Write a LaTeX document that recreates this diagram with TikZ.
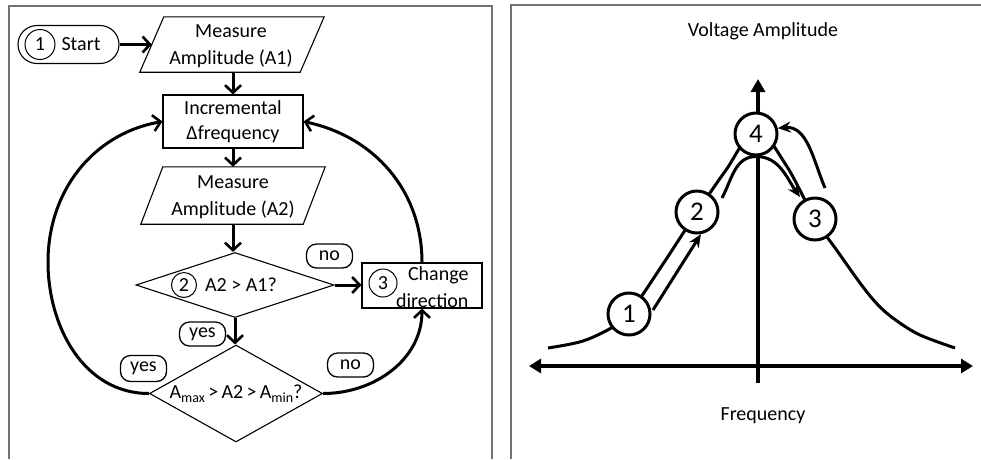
\documentclass[tikz,border=0pt]{standalone}
\usepackage{fontspec}
\setmainfont{Carlito}
\usetikzlibrary{arrows.meta,shapes.geometric}
\newcommand{\mysub}[1]{\raisebox{-4pt}{\fontsize{14}{14}\selectfont #1}}
\begin{document}
\begin{tikzpicture}[x=1pt,y=1pt,
  font=\fontsize{20}{27}\selectfont,
  frame/.style={draw=black!55, line width=1.4pt},
  shapebox/.style={draw, line width=1.1pt, inner sep=0pt},
  pill/.style={draw, fill=white, line width=1.3pt, rounded corners=10pt, inner sep=0pt, minimum width=46pt, minimum height=24pt},
  numc/.style={circle, draw, line width=1pt, inner sep=0pt, minimum size=#1},
  flow/.style={line width=3pt, -{Straight Barb[length=7.5pt,width=16pt,line width=2.6pt]}},
  axisline/.style={line width=4pt},
  bignum/.style={circle, draw, line width=3pt, fill=white, inner sep=0pt, minimum size=42pt, font=\fontsize{27}{27}\selectfont},
  curvearrow/.style={line width=3pt, -{Stealth[length=13pt,width=11pt]}},
]
\useasboundingbox (0,0) rectangle (981,-459);

% panel frames
\draw[frame] (9,-459) -- (9,-6) -- (492,-6) -- (492,-459);
\draw[frame] (511,-459) -- (511,-5) -- (981,-5);

% ---------------- flowchart ----------------
\node[shapebox, rounded corners=19pt, minimum width=101pt, minimum height=38pt] (start) at (68.5,-44.5) {};
\node[numc=30pt] (s1) at (40,-44.5) {1};
\node (stxt) at (81,-44) {Start};

\node[minimum width=160pt, minimum height=55pt, inner sep=0pt] (m1) at (232,-44.5) {};
\draw[shapebox] ([xshift=12pt]m1.north west) -- ([xshift=12pt]m1.north east) -- ([xshift=-12pt]m1.south east) -- ([xshift=-12pt]m1.south west) -- cycle;
\node[align=center] (m1t) at (231,-46) {Measure\\Amplitude (A1)};

\node[shapebox, minimum width=140pt, minimum height=53pt, align=center, font=\fontsize{20}{25}\selectfont] (inc) at (233,-121.5) {Incremental\\Δfrequency};

\node[minimum width=162pt, minimum height=57pt, inner sep=0pt] (m2) at (233,-195.5) {};
\draw[shapebox] ([xshift=11pt]m2.north west) -- ([xshift=11pt]m2.north east) -- ([xshift=-11pt]m2.south east) -- ([xshift=-11pt]m2.south west) -- cycle;
\node[align=center] (m2t) at (233,-197) {Measure\\Amplitude (A2)};

\node[diamond, shapebox, minimum width=198pt, minimum height=65pt] (d1) at (235,-285) {};
\node[numc=25pt] (c2) at (184,-285) {2};
\node (d1t) at (241,-285) {A2 > A1?};

\node[shapebox, minimum width=120pt, minimum height=45pt] (chg) at (422,-285.5) {};
\node[numc=28pt] (c3) at (383,-283) {3};
\node[align=right, anchor=east] (chgt) at (472,-287) {Change\\direction};

\node[diamond, shapebox, minimum width=173pt, minimum height=97pt] (d2) at (236,-393.5) {};
\node (d2t) at (236,-394) {A\mysub{max}\,>\,A2\,>\,A\mysub{min}?};

% connectors
\draw[flow] (start.east) -- (m1.west);
\draw[flow] (inc.north |- m1.south) -- (inc.north);
\draw[flow] (inc.south) -- (m2.north);
\draw[flow] (m2.south) -- (m2.south |- d1.north);
\draw[flow] (d1.east) -- (chg.west |- d1.east);
\draw[flow] (d1.south) -- (d1.south |- d2.north);
\draw[flow] (d2.west) to[out=180,in=-90] (48,-262) to[out=90,in=190] (inc.west);
\draw[flow] (d2.east) to[out=0,in=-90] (chg.south);
\draw[flow] (chg.north) to[out=90,in=-12] (inc.east);

% labels
\node[pill] (no1) at (329.5,-256) {no};
\node[pill] (yes1) at (202.5,-334) {yes};
\node[pill, minimum height=26pt] (yes2) at (143.5,-368.5) {yes};
\node[pill] (no2) at (350.5,-365) {no};

% ---------------- graph ----------------
\node (vlab) at (763,-31) {Voltage Amplitude};
\node (flab) at (763,-416) {Frequency};
\coordinate (xl) at (529,-366);
\coordinate (xr) at (973,-366);
\coordinate (yb) at (758,-383);
\coordinate (yt) at (758,-79);
\draw[axisline, {Triangle[length=12pt,width=14pt]}-{Triangle[length=12pt,width=14pt]}] (xl) -- (xr);
\draw[axisline, -{Triangle[length=13pt,width=14pt]}] (yb) -- (yt);

\draw[line width=3pt] plot[smooth, tension=0.55] coordinates {(548,-348) (583,-341) (613,-327) (629,-314) (663,-264) (697,-212) (726,-170) (756,-130) (786,-165) (815,-219) (838,-252) (863,-287) (880,-307) (897,-321) (920,-335) (955,-348)};

\node[bignum] (n1) at (629,-314) {1};
\node[bignum] (n2) at (697,-212) {2};
\node[bignum] (n4) at (756,-134) {4};
\node[bignum] (n3) at (815,-219) {3};

\coordinate (a1) at (653,-310);
\coordinate (b1) at (722,-198);
\coordinate (b2) at (800,-197);
\coordinate (c1) at (825,-188);
\draw[curvearrow] (a1) -- (n2.-80);
\draw[curvearrow] (b1) to[out=62,in=180] (n4.south) to[out=0,in=125] (b2);
\draw[curvearrow] (c1) to[out=113,in=5] (n4.15);
\end{tikzpicture}
\end{document}
